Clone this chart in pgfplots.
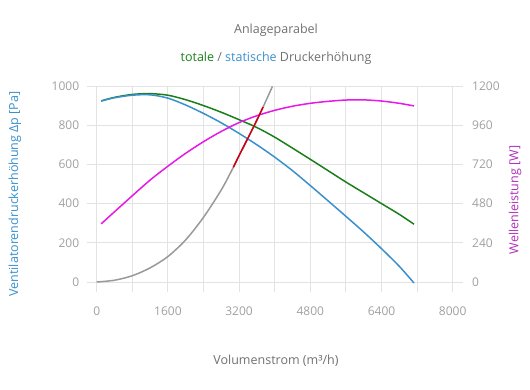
\documentclass[border=0pt]{standalone}
\usepackage{pgfplots}
\pgfplotsset{compat=1.18}
\usepackage{fontspec}
\setmainfont{Open Sans}
\definecolor{cblue}{HTML}{3A90CC}
\definecolor{cgreen}{HTML}{1A7F1A}
\definecolor{cmag}{HTML}{E619E6}
\definecolor{cmaglab}{HTML}{B030B8}
\definecolor{cgray}{HTML}{999999}
\definecolor{cred}{HTML}{CC0010}
\definecolor{cgrid}{HTML}{E3E3E3}
\definecolor{ctick}{HTML}{A0A0A0}
\definecolor{ctext}{HTML}{707070}
\pgfplotsset{
  base/.style={
    scale only axis, width=356pt, height=196pt,
    at={(0,0)}, anchor=south west,
    xmin=0, xmax=8000, ymin=0, ymax=1000,
    clip=false,
    axis line style={draw=none},
    major tick style={draw=cgrid, line width=0.8pt},
    major tick length=10pt, tick align=outside,
    ticklabel style={font=\fontsize{12}{14}\selectfont, text=ctick},
    /pgf/number format/assume math mode=true,
    scaled ticks=false,
    /pgf/number format/.cd, 1000 sep={}, 
  },
}
\begin{document}
\begin{tikzpicture}
\useasboundingbox (-96.7pt,-108pt) rectangle (433.3pt,282pt);
% left axis with grid
\begin{axis}[base,
  xtick={0,800,...,8000},
  xticklabels={0,,1600,,3200,,4800,,6400,,8000},
  ytick={0,200,...,1000},
  xtick pos=bottom, ytick pos=left,
  xticklabel style={yshift=-11pt},
  yticklabel style={xshift=-4pt},
  grid=major, grid style={draw=cgrid, line width=0.8pt},
]
\addplot[cgray, line width=1.5pt, smooth] coordinates {
(0,0) (400,9) (800,32) (1200,72) (1600,130) (2000,215) (2400,330)
(2800,470) (3070,585) (3200,645) (3400,735) (3600,826) (3740,893) (3950,998)};
\addplot[cgreen, line width=1.5pt, smooth] coordinates {
(100,924) (400,942) (800,957) (1200,961) (1600,953) (2000,930) (2400,900)
(2800,866) (3200,828) (3600,788) (4000,739) (4400,683) (4800,626)
(5200,568) (5600,510) (6000,455) (6400,400) (6800,345) (7130,295)};
\addplot[cblue, line width=1.5pt, smooth] coordinates {
(100,923) (400,940) (800,953) (1200,955) (1600,938) (2000,903) (2400,860)
(2800,812) (3200,758) (3600,700) (4000,637) (4400,568) (4800,492)
(5200,414) (5600,335) (6000,255) (6400,170) (6800,80) (7130,-5)};
\end{axis}
% right axis
\begin{axis}[base,
  ymin=0, ymax=1200,
  xtick=\empty,
  ytick={0,240,...,1200},
  ytick pos=right,
  yticklabel style={xshift=6pt},
]
\addplot[cmag, line width=1.5pt, smooth] coordinates {
(100,356) (400,430) (800,528) (1200,624) (1600,709) (2000,788) (2400,859)
(2800,922) (3200,976) (3600,1018) (4000,1051) (4400,1076) (4800,1094)
(5200,1106) (5600,1114) (6000,1115) (6400,1108) (6800,1094) (7130,1078)};
\end{axis}
% operating segment
\begin{axis}[base, xtick=\empty, ytick=\empty]
\addplot[cred, line width=1.5pt, smooth] coordinates {
(3070,585) (3200,645) (3400,735) (3600,826) (3740,893)};
\end{axis}
\node[text=ctext, font=\fontsize{12.5}{14}\selectfont] at (179.3pt,252pt) {Anlageparabel};
\node[text=ctext, font=\fontsize{12.5}{14}\selectfont] at (179.3pt,224pt) {\textcolor{cgreen}{totale} / \textcolor{cblue}{statische} Druckerhöhung};
\node[text=ctext, font=\fontsize{12.5}{14}\selectfont] at (179.3pt,-78.7pt) {Volumenstrom (m³/h)};
\node[text=cblue, font=\fontsize{12.5}{14}\selectfont, rotate=90] at (-81.7pt,88pt) {Ventilatorendruckerhöhung Δp [Pa]};
\node[text=cmaglab, font=\fontsize{12.5}{14}\selectfont, rotate=90] at (418.3pt,82pt) {Wellenleistung [W]};
\end{tikzpicture}
\end{document}
